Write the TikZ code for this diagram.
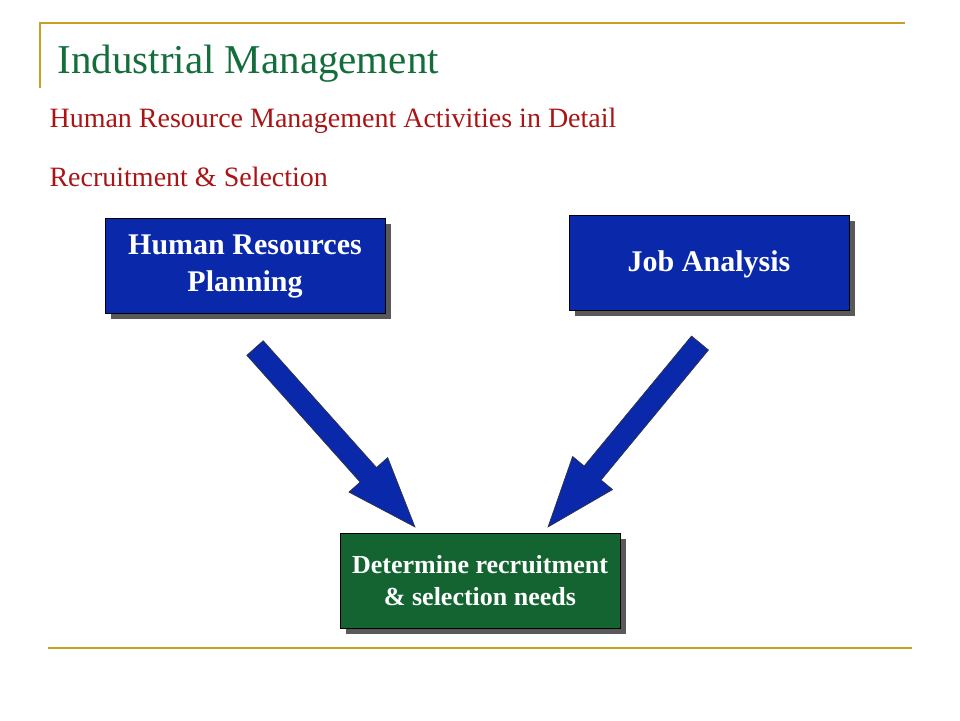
\documentclass[tikz,border=0pt]{standalone}
\usepackage{fontspec}
\setmainfont{Liberation Serif}
\definecolor{gold}{RGB}{200,160,40}
\definecolor{titlegreen}{RGB}{20,110,60}
\definecolor{subred}{RGB}{170,20,20}
\definecolor{boxblue}{RGB}{10,40,170}
\definecolor{boxgreen}{RGB}{20,100,50}
\tikzset{
  shadowbox/.style={fill=gray!70!black,draw=none},
  bluebox/.style={fill=boxblue,draw=black,line width=0.8pt},
  greenbox/.style={fill=boxgreen,draw=black,line width=0.8pt},
  boxtext/.style={text=white,font=\bfseries\fontsize{30}{37}\selectfont,align=center},
  bigarrow/.style={fill=boxblue,draw=black!80,line width=0.6pt}
}
\begin{document}
\begin{tikzpicture}[x=1pt,y=-1pt]
\useasboundingbox (0,0) rectangle (960,720);

% frame lines
\draw [gold,line width=1.5] (40,88) -- (40,23) -- (905,23);
\draw [gold,line width=1.5] (48,648) -- (912,648);

% titles
\node (title) [anchor=west,text=titlegreen,font=\fontsize{41}{45}\selectfont] at (54,64) {Industrial Management};
\node (sub1) [anchor=west,text=subred,font=\fontsize{28}{32}\selectfont] at (46,121) {Human Resource Management Activities in Detail};
\node (sub2) [anchor=west,text=subred,font=\fontsize{28}{32}\selectfont] at (46,177) {Recruitment \& Selection};

% boxes
\fill [shadowbox] (111,224) rectangle (391,319);
\draw [bluebox] (105,218) rectangle (385,313);
\node (hrp) [boxtext] at (245,266) {Human Resources\\Planning};

\fill [shadowbox] (575,221) rectangle (855,316);
\draw [bluebox] (569,215) rectangle (849,310);
\node (ja) [boxtext] at (709,264) {Job Analysis};

\fill [shadowbox] (346,539) rectangle (626,634);
\draw [greenbox] (340,533) rectangle (620,628);
\node (need) [boxtext,font=\bfseries\fontsize{26}{32}\selectfont] at (480,581) {Determine recruitment\\\& selection needs};

% block arrows
\draw [bigarrow] (246.8,355.3) -- (263.2,340.7) -- (376.5,467.5) -- (387.7,457.5) -- (415,527) -- (348.9,492.1) -- (360.1,482.1) -- cycle;
\draw [bigarrow] (691.5,336.0) -- (584.1,466.0) -- (572.6,456.4) -- (548,527) -- (612.6,489.6) -- (601.1,480.0) -- (708.5,350.0) -- cycle;

\end{tikzpicture}
\end{document}
